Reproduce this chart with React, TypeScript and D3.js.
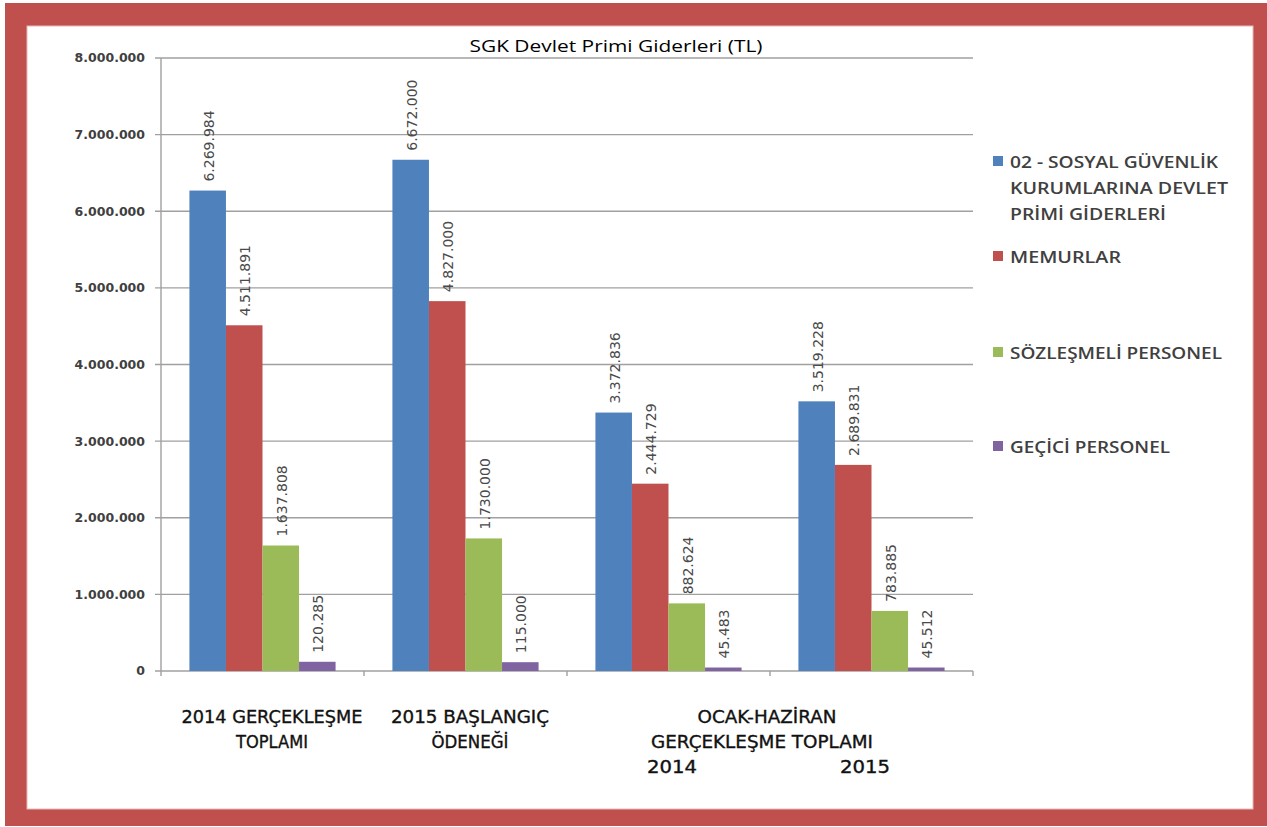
import React from "react";
import * as d3 from "d3";

const categories = ["c1", "c2", "c3", "c4"];
const seriesNames = [
  "02 - SOSYAL GÜVENLİK KURUMLARINA DEVLET PRİMİ GİDERLERİ",
  "MEMURLAR",
  "SÖZLEŞMELİ PERSONEL",
  "GEÇİCİ PERSONEL",
];
const sgkValues = [6269984, 6672000, 3372836, 3519228];
const memurValues = [4511891, 4827000, 2444729, 2689831];
const sozlesmeliValues = [1637808, 1730000, 882624, 783885];
const geciciValues = [120285, 115000, 45483, 45512];
const seriesColors = ["#4F81BD", "#C0504D", "#9BBB59", "#8064A2"];
const yTicks = [0, 1000000, 2000000, 3000000, 4000000, 5000000, 6000000, 7000000, 8000000];

const allSeries = [sgkValues, memurValues, sozlesmeliValues, geciciValues];

const fmt = (v: number) => (v === 0 ? "0" : d3.format(",")(v).replace(/,/g, "."));

export default function App() {
  const W = 1267, H = 827;
  const left = 161, right = 973, top = 58, bottom = 671;
  const x0 = d3.scaleBand<string>().domain(categories).range([left, right]).paddingInner(0.28).paddingOuter(0.14);
  const x1 = d3.scaleBand<number>().domain([0, 1, 2, 3]).range([0, x0.bandwidth()]).padding(0);
  const y = d3.scaleLinear().domain([0, 8000000]).range([bottom, top]);
  const catFont = "'DejaVu Sans', sans-serif";
  const legendItems = [
    { lines: ["02 - SOSYAL GÜVENLİK", "KURUMLARINA DEVLET", "PRİMİ GİDERLERİ"], lens: [208, 218, 156], y: 162 },
    { lines: ["MEMURLAR"], lens: [111], y: 257 },
    { lines: ["SÖZLEŞMELİ PERSONEL"], lens: [212], y: 353 },
    { lines: ["GEÇİCİ PERSONEL"], lens: [160], y: 447 },
  ];
  const boundaries = [left, ...categories.map((c) => (x0(c) as number) - x0.step() * 0.14 + x0.step())];
  return (
    <div style={{ position: "absolute", left: 0, top: 0 }}>
      <svg width={W} height={H} style={{ display: "block" }}>
        <rect x={0} y={0} width={W} height={H} fill="#ffffff" />
        <rect x={5} y={3} width={W - 5} height={823} fill="#C0504D" />
        <rect x={27} y={26} width={1226} height={783} fill="#ffffff" stroke="#e9b8b6" strokeWidth={1} />
        <text x={616} y={52} textAnchor="middle" fontFamily="'Open Sans', sans-serif" fontSize={17} fill="#000" textLength={293} lengthAdjust="spacingAndGlyphs">
          SGK Devlet Primi Giderleri (TL)
        </text>
        {yTicks.map((t) => (
          <g key={t}>
            <line x1={left - 6} x2={right} y1={y(t)} y2={y(t)} stroke="#a0a0a0" strokeWidth={1.4} />
            <text x={145} y={y(t)} dy="0.35em" textAnchor="end" fontFamily={catFont} fontSize={12.5} fontWeight={600} fill="#404040">
              {fmt(t)}
            </text>
          </g>
        ))}
        <line x1={left} x2={left} y1={top} y2={bottom} stroke="#a0a0a0" strokeWidth={1.4} />
        {boundaries.map((b, i) => (
          <line key={i} x1={b} x2={b} y1={bottom} y2={bottom + 5} stroke="#a0a0a0" strokeWidth={1.4} />
        ))}
        {categories.map((c, ci) =>
          allSeries.map((vals, si) => {
            const bx = (x0(c) as number) + (x1(si) as number);
            const bw = x1.bandwidth();
            const v = vals[ci];
            return (
              <g key={c + si}>
                <rect x={bx} y={y(v)} width={bw} height={bottom - y(v)} fill={seriesColors[si]} />
                <text
                  transform={`translate(${bx + bw / 2 + 1},${y(v) - 9}) rotate(-90)`}
                  dominantBaseline="central"
                  fontFamily={catFont}
                  fontSize={14}
                  fill="#4a4a4a"
                >
                  {fmt(v)}
                </text>
              </g>
            );
          })
        )}
        <g fontFamily={catFont} fontSize={17} fill="#111" stroke="#111" strokeWidth={0.35} textAnchor="middle">
          <text x={272} y={723} textLength={181} lengthAdjust="spacingAndGlyphs">2014 GERÇEKLEŞME</text>
          <text x={272} y={748} textLength={72} lengthAdjust="spacingAndGlyphs">TOPLAMI</text>
          <text x={470} y={723} textLength={158} lengthAdjust="spacingAndGlyphs">2015 BAŞLANGIÇ</text>
          <text x={470} y={748} textLength={77} lengthAdjust="spacingAndGlyphs">ÖDENEĞİ</text>
          <text x={767} y={723} textLength={139} lengthAdjust="spacingAndGlyphs">OCAK-HAZİRAN</text>
          <text x={762} y={748} textLength={222} lengthAdjust="spacingAndGlyphs">GERÇEKLEŞME TOPLAMI</text>
          <text x={672} y={773} textLength={50} lengthAdjust="spacingAndGlyphs">2014</text>
          <text x={865} y={773} textLength={50} lengthAdjust="spacingAndGlyphs">2015</text>
        </g>
        {legendItems.map((it, i) => (
          <g key={i}>
            <rect x={993} y={it.y - 6} width={10} height={10} fill={seriesColors[i]} />
            {it.lines.map((ln, li) => (
              <text
                key={li}
                x={1010}
                y={it.y + li * 26}
                dy="0.36em"
                fontFamily="'Open Sans', sans-serif"
                fontSize={17}
                fontWeight={600}
                fill="#404040"
                textLength={it.lens[li]}
                lengthAdjust="spacingAndGlyphs"
              >
                {ln}
              </text>
            ))}
          </g>
        ))}
      </svg>
    </div>
  );
}
